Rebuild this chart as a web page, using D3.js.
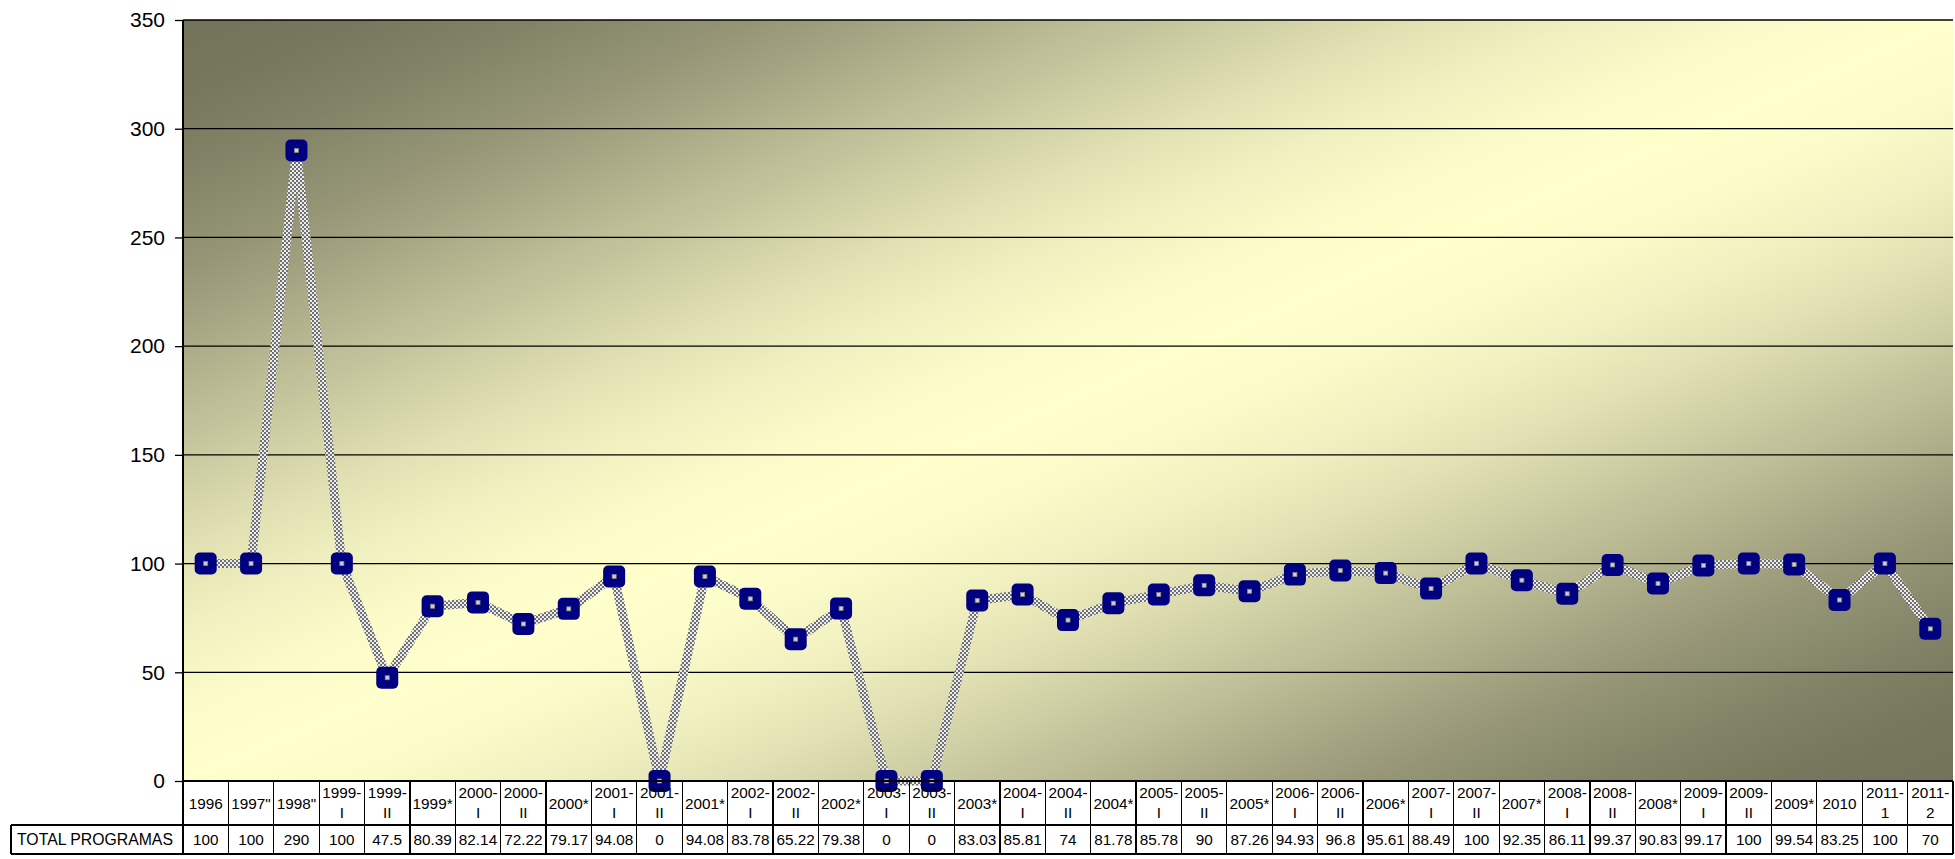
<!DOCTYPE html>
<html>
<head>
<meta charset="utf-8">
<script src="https://cdn.jsdelivr.net/npm/d3@7"></script>
<style>
  html, body { margin: 0; padding: 0; background: #ffffff; }
  svg { display: block; }
  text { font-family: "Liberation Sans", Arial, sans-serif; fill: #000; }
</style>
</head>
<body>
<svg id="chart" width="1955" height="859"></svg>
<script>
const categories = ["1996", "1997\"", "1998\"", "1999-I", "1999-II", "1999*", "2000-I", "2000-II", "2000*",
  "2001-I", "2001-II", "2001*", "2002-I", "2002-II", "2002*", "2003-I", "2003-II", "2003*",
  "2004-I", "2004-II", "2004*", "2005-I", "2005-II", "2005*", "2006-I", "2006-II", "2006*",
  "2007-I", "2007-II", "2007*", "2008-I", "2008-II", "2008*", "2009-I", "2009-II", "2009*",
  "2010", "2011-1", "2011-2"];
const seriesName = "TOTAL PROGRAMAS";
const values = [100, 100, 290, 100, 47.5, 80.39, 82.14, 72.22, 79.17, 94.08, 0, 94.08, 83.78, 65.22, 79.38, 0, 0,
  83.03, 85.81, 74, 81.78, 85.78, 90, 87.26, 94.93, 96.8, 95.61, 88.49, 100, 92.35, 86.11, 99.37, 90.83,
  99.17, 100, 99.54, 83.25, 100, 70];
const yTicks = [0, 50, 100, 150, 200, 250, 300, 350];

const svg = d3.select("#chart");
const L = 183, R = 1953, T = 20, B = 781;
const rowMid = 825, rowBot = 854, labelLeft = 11;

const x = d3.scaleBand().domain(categories).range([L, R]).padding(0);
const y = d3.scaleLinear().domain([0, 350]).range([B, T]);

const defs = svg.append("defs");
const grad = defs.append("linearGradient").attr("id", "bg")
  .attr("x1", 0).attr("y1", 0).attr("x2", 1).attr("y2", 1);
const darkC = "#73735a", lightC = "#ffffcc";
const mixC = d3.interpolateRgb(lightC, darkC);
d3.range(0, 1.0001, 0.05).forEach(t => {
  const u = Math.abs(t - 0.5) * 2;
  const s = 3 * u * u - 2 * u * u * u;
  grad.append("stop").attr("offset", t).attr("stop-color", mixC(s));
});

const pat = defs.append("pattern").attr("id", "checker")
  .attr("width", 4).attr("height", 4).attr("patternUnits", "userSpaceOnUse");
pat.append("rect").attr("width", 4).attr("height", 4).attr("fill", "#ececec");
pat.append("rect").attr("width", 2).attr("height", 2).attr("fill", "#707070");
pat.append("rect").attr("x", 2).attr("y", 2).attr("width", 2).attr("height", 2).attr("fill", "#707070");

// plot background
svg.append("rect").attr("x", L).attr("y", T).attr("width", R - L).attr("height", B - T)
  .attr("fill", "url(#bg)");

// gridlines
svg.append("g").selectAll("line").data(yTicks.filter(d => d > 0)).join("line")
  .attr("x1", L).attr("x2", R).attr("y1", d => y(d)).attr("y2", d => y(d))
  .attr("stroke", "#000").attr("stroke-width", 1.3);

// y axis
const yAxis = d3.axisLeft(y).tickValues(yTicks).tickSize(8).tickPadding(10).tickFormat(d3.format("d"));
const ya = svg.append("g").attr("transform", `translate(${L},0)`).call(yAxis);
ya.select(".domain").remove();
ya.selectAll(".tick line").attr("stroke", "#000").attr("stroke-width", 1.3);
ya.selectAll(".tick text").style("font-size", "21px").style("font-family", "Liberation Sans, Arial, sans-serif").attr("fill", "#000");

// line
const line = d3.line().x((d, i) => x(categories[i]) + x.bandwidth() / 2).y(d => y(d));
svg.append("path").datum(values).attr("d", line)
  .attr("fill", "none").attr("stroke", "url(#checker)").attr("stroke-width", 9)
  .attr("stroke-linejoin", "miter");

// markers
const mk = svg.append("g").selectAll("g").data(values).join("g")
  .attr("transform", (d, i) => `translate(${x(categories[i]) + x.bandwidth() / 2},${y(d)})`);
mk.append("rect").attr("x", -11).attr("y", -11).attr("width", 22).attr("height", 22)
  .attr("rx", 5).attr("fill", "#000080");
mk.append("rect").attr("x", -2).attr("y", -2).attr("width", 4).attr("height", 4)
  .attr("fill", "#d0d0d0").attr("stroke", "#888888").attr("stroke-width", 0.8);

// table lines
const tg = svg.append("g").attr("stroke", "#000").attr("stroke-width", 1.2).attr("shape-rendering", "crispEdges");
tg.append("line").attr("x1", L).attr("x2", L).attr("y1", T).attr("y2", rowBot);
tg.append("line").attr("x1", L).attr("x2", R).attr("y1", B).attr("y2", B);
tg.append("line").attr("x1", labelLeft).attr("x2", R).attr("y1", rowMid).attr("y2", rowMid);
tg.append("line").attr("x1", labelLeft).attr("x2", R).attr("y1", rowBot).attr("y2", rowBot);
tg.append("line").attr("x1", labelLeft).attr("x2", labelLeft).attr("y1", rowMid).attr("y2", rowBot);
tg.selectAll(".vl").data(categories).join("line").attr("class", "vl")
  .attr("x1", d => x(d) + x.bandwidth()).attr("x2", d => x(d) + x.bandwidth())
  .attr("y1", B).attr("y2", rowBot);

// header texts
const hdr = svg.append("g").selectAll("text").data(categories).join("text")
  .attr("text-anchor", "middle").style("font-size", "15.3px")
  .attr("x", d => x(d) + x.bandwidth() / 2);
hdr.each(function (d) {
  const t = d3.select(this);
  const idx = d.indexOf("-");
  if (idx >= 0) {
    t.append("tspan").attr("x", x(d) + x.bandwidth() / 2).attr("y", 798).text(d.slice(0, idx + 1));
    t.append("tspan").attr("x", x(d) + x.bandwidth() / 2).attr("y", 818).text(d.slice(idx + 1));
  } else {
    t.attr("y", 809).text(d);
  }
});

// values
svg.append("g").selectAll("text").data(values).join("text")
  .attr("text-anchor", "middle").style("font-size", "15.3px")
  .attr("x", (d, i) => x(categories[i]) + x.bandwidth() / 2).attr("y", 845)
  .text(d => String(d));

svg.append("text").attr("x", 17).attr("y", 845).style("font-size", "15.8px").text(seriesName);
</script>
</body>
</html>
